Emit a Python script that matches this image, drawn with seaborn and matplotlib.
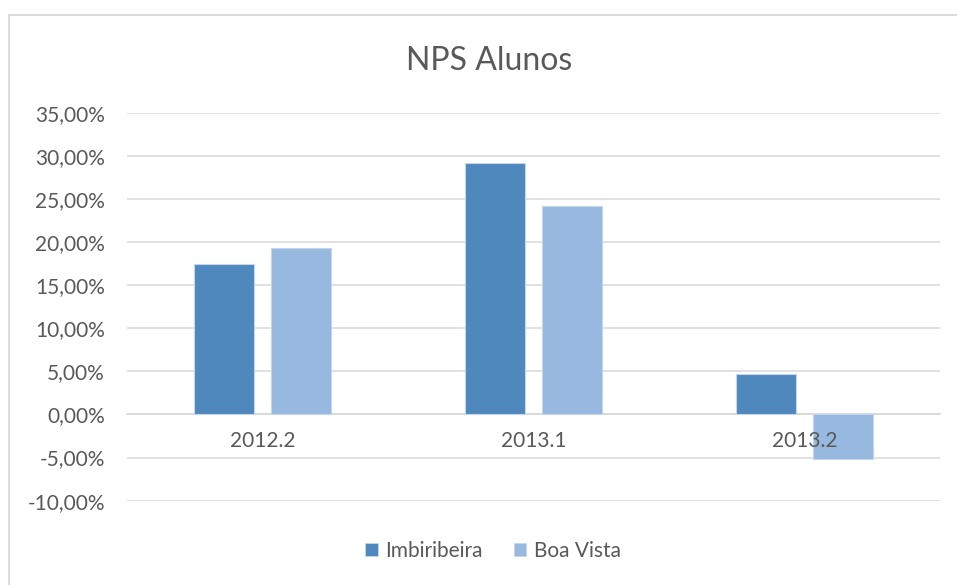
import matplotlib
matplotlib.use("Agg")
import matplotlib.pyplot as plt
import seaborn as sns
import pandas as pd
from matplotlib.ticker import FuncFormatter, MultipleLocator
from matplotlib.lines import Line2D
from matplotlib.patches import Patch

# ---- data ----
periods = ["2012.2", "2013.1", "2013.2"]
imbiribeira = [17.47, 29.2, 4.64]
boa_vista = [19.33, 24.2, -5.15]
series = ["Imbiribeira", "Boa Vista"]
colors = ["#4F88BD", "#97B8DF"]
title = "NPS Alunos"

df = pd.DataFrame({
    "Periodo": periods * 2,
    "Valor": imbiribeira + boa_vista,
    "Unidade": [series[0]] * len(periods) + [series[1]] * len(periods),
})

sns.set_theme(style="white")
plt.rcParams["font.family"] = ["Lato", "DejaVu Sans"]
text_color = "#595959"
grid_color = "#D9D9D9"

W, H = 957, 585
fig = plt.figure(figsize=(W / 100, H / 100), dpi=100)
fig.patch.set_facecolor("white")

ax = fig.add_axes([127 / W, 1 - 500.7 / H, (940 - 127) / W, (500.7 - 112.7) / H])
sns.barplot(data=df, x="Periodo", y="Valor", hue="Unidade", hue_order=series,
            palette=colors, saturation=1, width=0.568, gap=0.21,
            edgecolor="#C5D6EC", linewidth=0.8, legend=False, ax=ax)

ax.set_xlim(-0.5, len(periods) - 0.5)
ax.set_ylim(-10, 35)
ax.yaxis.set_major_locator(MultipleLocator(5))
ax.yaxis.set_major_formatter(FuncFormatter(lambda v, p: f"{v:.2f}%".replace(".", ",")))
ax.set_xlabel("")
ax.set_ylabel("")

ax.yaxis.grid(True, color=grid_color, linewidth=1.1)
ax.xaxis.grid(False)
ax.set_axisbelow(True)
ax.xaxis.set_zorder(3)  # category labels drawn over bars, as in the reference
for s in ["left", "right", "top"]:
    ax.spines[s].set_visible(False)
ax.spines["bottom"].set_position(("data", 0))
ax.spines["bottom"].set_color(grid_color)
ax.spines["bottom"].set_linewidth(1.1)
ax.spines["bottom"].set_zorder(0.5)

ax.tick_params(axis="y", length=0, pad=16, labelsize=15, labelcolor=text_color)
ax.tick_params(axis="x", length=0, pad=12, labelsize=15, labelcolor=text_color)

fig.text(489 / W, 1 - 69.5 / H, title, ha="center", va="baseline",
         fontsize=23, color=text_color)

handles = [Patch(facecolor=c, edgecolor="#C5D6EC", linewidth=0.6, label=s)
           for c, s in zip(colors, series)]
fig.legend(handles=handles, loc="center", bbox_to_anchor=(0.515, 1 - 551 / H),
           ncol=2, frameon=False, handlelength=0.6, handleheight=0.6,
           columnspacing=1.5, handletextpad=0.35, fontsize=15,
           labelcolor=text_color)

# outer chart border (top & left visible)
fig.add_artist(Line2D([8.5 / W, 1], [1 - 14.5 / H, 1 - 14.5 / H],
                      transform=fig.transFigure, color=grid_color, linewidth=1.3))
fig.add_artist(Line2D([8.5 / W, 8.5 / W], [0, 1 - 14.5 / H],
                      transform=fig.transFigure, color=grid_color, linewidth=1.3))

fig.savefig("out.png", dpi=100)
